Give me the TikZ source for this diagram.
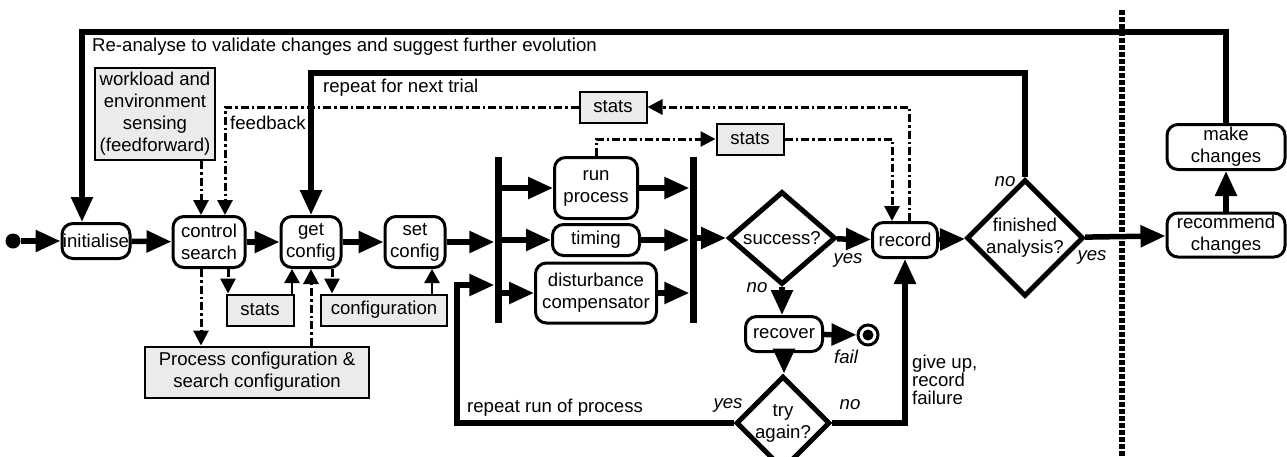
\documentclass[tikz,border=0pt]{standalone}
\usepackage{fontspec}
\setmainfont{Liberation Sans}
\usetikzlibrary{arrows.meta,shapes.geometric}
\definecolor{boxgray}{RGB}{235,235,235}
\begin{document}
\begin{tikzpicture}[x=1pt,y=-1pt,
  font=\fontsize{18.6}{22}\selectfont,
  proc/.style={draw, line width=3pt, rounded corners=11pt, fill=white, align=center, inner sep=0pt},
  gbox/.style={draw, line width=2pt, fill=boxgray, align=center, inner sep=0pt},
  dec/.style={draw, diamond, line width=5pt, fill=white, align=center, inner sep=0pt},
  bar/.style={fill=black, draw=none, minimum width=7pt, inner sep=0pt},
  flow/.style={line width=5.5pt, -{Triangle[length=25pt,width=21pt]}},
  thinarr/.style={line width=2.5pt, -{Triangle[length=14pt,width=15pt]}},
  dd/.style={line width=3pt, dash pattern=on 8pt off 3pt on 2.5pt off 3pt, -{Triangle[length=15pt,width=15pt]}},
  lab/.style={font=\fontsize{18.6}{22}\selectfont\itshape, inner sep=0pt},
  txt/.style={inner sep=0pt, anchor=west, align=left},
  sep/.style={line width=6pt, dash pattern=on 5pt off 2pt},
]
\useasboundingbox (0,0) rectangle (1287,456);

% helper coordinates
\coordinate (topY) at (0,32);
\coordinate (rY) at (0,73);
\coordinate (loopL) at (457,285);
\coordinate (x82) at (82,0);
\coordinate (x201) at (201,0);
\coordinate (x225) at (225,0);
\coordinate (x228) at (228,0);
\coordinate (x292) at (292,0);
\coordinate (x311) at (311,0);
\coordinate (x332) at (332,0);
\coordinate (x432) at (432,0);
\coordinate (x892) at (892,0);
\coordinate (x909) at (909,0);
\coordinate (sepTop) at (1122,10);
\coordinate (sepBot) at (1122,456);

% nodes
\node[circle, fill=black, minimum size=15pt, inner sep=0pt] (start) at (13,241) {};
\node[proc, minimum width=68pt, minimum height=35pt] (init) at (96,241) {initialise};
\node[proc, minimum width=72pt, minimum height=51pt] (cs) at (209,242) {control\\search};
\node[proc, minimum width=60pt, minimum height=51pt] (gc) at (311,242) {get\\config};
\node[proc, minimum width=60pt, minimum height=51pt] (sc) at (415,242) {set\\config};
\node[gbox, minimum width=120pt, minimum height=92pt] (work) at (155,114) {workload and\\environment\\sensing\\(feedforward)};
\node[gbox, minimum width=67pt, minimum height=31pt] (stU) at (613,107) {stats};
\node[gbox, minimum width=67pt, minimum height=31pt] (stL) at (750,139) {stats};
\node[gbox, minimum width=67pt, minimum height=31pt] (stS) at (260,310) {stats};
\node[gbox, minimum width=126pt, minimum height=31pt] (conf) at (384,310) {configuration};
\node[gbox, minimum width=224pt, minimum height=51pt] (pcs) at (257,372) {Process configuration \&\\search configuration};
\node[bar, minimum height=166pt] (fl) at (498,240) {};
\node[bar, minimum height=166pt] (fr) at (693,240) {};
\node[proc, minimum width=83pt, minimum height=61pt] (run) at (596,188) {run\\process};
\node[proc, minimum width=87pt, minimum height=31pt] (tim) at (596,240) {timing};
\node[proc, minimum width=121pt, minimum height=60pt] (dist) at (596,293) {disturbance\\compensator};
\node[dec, minimum width=107pt, minimum height=93pt] (succ) at (782,238) {success?};
\node[proc, minimum width=65pt, minimum height=35pt] (rec) at (905,240) {record};
\node[dec, minimum width=116pt, minimum height=105pt] (fin) at (1025,238) {finished\\analysis?};
\node[proc, minimum width=118pt, minimum height=44pt] (rch) at (1226,235) {recommend\\changes};
\node[proc, minimum width=118pt, minimum height=45pt] (mch) at (1226,147) {make\\changes};
\node[proc, minimum width=77pt, minimum height=35pt] (recv) at (784,334) {recover};
\node[circle, draw, line width=3pt, minimum size=20pt, inner sep=0pt] (endc) at (868,335) {};
\node[circle, fill=black, minimum size=11pt, inner sep=0pt] (endi) at (868,335) {};
\node[dec, minimum width=90pt, minimum height=86pt] (try) at (783,423) {try\\again?};

% texts
\node[txt] (t1) at (92,47) {Re-analyse to validate changes and suggest further evolution};
\node[txt] (t2) at (323,88) {repeat for next trial};
\node[txt] (t3) at (230,123) {feedback};
\node[txt] (t4) at (467,408) {repeat run of process};
\node[txt, font=\fontsize{18.6}{18}\selectfont] (t5) at (912,380) {give up,\\record\\failure};
\node[lab] (l1) at (1005,182) {no};
\node[lab] (l2) at (1092,257) {yes};
\node[lab] (l3) at (848,260) {yes};
\node[lab] (l4) at (757,288) {no};
\node[lab] (l5) at (846,357) {fail};
\node[lab] (l6) at (728,405) {yes};
\node[lab] (l7) at (850,405) {no};

% main flow
\draw[flow] (start) -- (init);
\draw[flow] (init) -- (cs);
\draw[flow] (cs) -- (gc);
\draw[flow] (gc) -- (sc);
\draw[flow] (sc.east) -- (sc.east -| fl.west);
\draw[flow] (fl.east |- run) -- (run);
\draw[flow] (fl.east |- tim) -- (tim);
\draw[flow] (fl.east |- dist) -- (dist);
\draw[flow] (run) -- (run -| fr.west);
\draw[flow] (tim) -- (tim -| fr.west);
\draw[flow] (dist) -- (dist -| fr.west);
\draw[flow] (fr.east |- succ) -- (succ);
\draw[flow] (succ) -- (rec);
\draw[flow] (rec) -- (fin);
\draw[flow] (fin) -- (rch);
\draw[flow] (rch) -- (mch);
\draw[flow] (mch.north) -- (mch.north |- topY) -- (x82 |- topY) -- (init.north -| x82);
\draw[flow] (fin.north) -- (fin.north |- rY) -- (gc.north |- rY) -- (gc.north);
\draw[flow] (succ.south) -- (succ.south |- recv.north);
\draw[flow] (recv) -- (endc);
\draw[flow] (recv.south) -- (recv.south |- try.north);
\draw[flow] (try.west) -| (loopL) -- (loopL -| fl.west);
\draw[flow] (try.east) -| (rec.south);

% data / feedback
\draw[dd] (rec.north -| x909) |- (stU.east);
\draw[dd] (stU.west) -| (cs.north -| x225);
\draw[dd] (run.north) |- (stL.west);
\draw[dd] (stL.east) -| (rec.north -| x892);
\draw[dd] (work.south -| x201) -- (cs.north -| x201);
\draw[dd] (cs.south -| x201) -- (pcs.north -| x201);
\draw[dd] (cs.south -| x228) -- (stS.north -| x228);
\draw[thinarr] (stS.north -| x292) -- (gc.south -| x292);
\draw[dd] (pcs.north -| x311) -- (gc.south -| x311);
\draw[dd] (gc.south -| x332) -- (conf.north -| x332);
\draw[thinarr] (conf.north -| x432) -- (sc.south -| x432);

% separator (drawn on top of the crossing lines)
\draw[sep] (sepTop) -- (sepBot);
\end{tikzpicture}
\end{document}
